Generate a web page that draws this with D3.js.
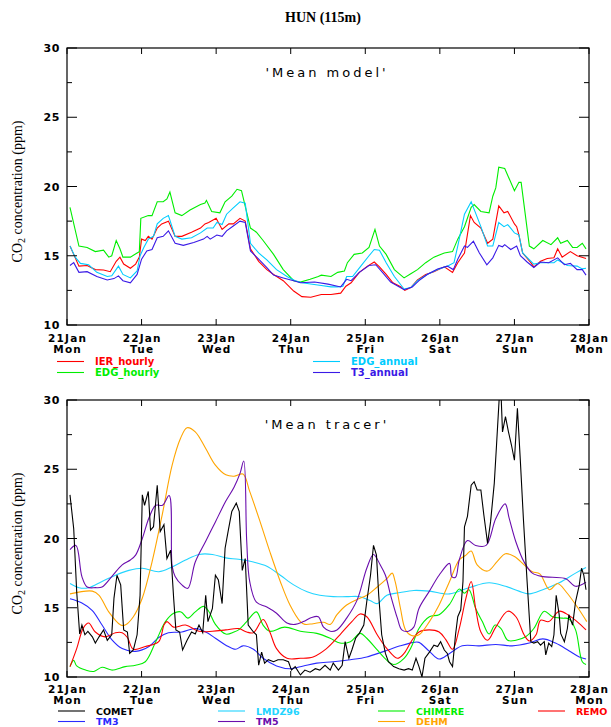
<!DOCTYPE html>
<html>
<head>
<meta charset="utf-8">
<script src="https://cdn.jsdelivr.net/npm/d3@7"></script>
<style>
  body { margin: 0; background: #fff; }
  .tick-lbl { font-family: "DejaVu Sans", sans-serif; font-weight: bold; fill: #000; }
  .leg { font-family: "DejaVu Sans", sans-serif; font-weight: bold; }
</style>
</head>
<body>
<div id="chart"></div>
<script>
// time in days since 21 Jan 00:00, values in ppm
const dayLabels = ["21Jan", "22Jan", "23Jan", "24Jan", "25Jan", "26Jan", "27Jan", "28Jan"];
const weekDays = ["Mon", "Tue", "Wed", "Thu", "Fri", "Sat", "Sun", "Mon"];
const yTicks = [10, 15, 20, 25, 30];

// ---- 'Mean model' panel
const ierHourly = [[0.04,15.7],[0.09,15.1],[0.16,14.25],[0.27,14.3],[0.38,14.0],[0.49,13.97],[0.58,13.85],[0.66,14.6],[0.71,14.9],[0.76,14.4],[0.85,14.1],[0.92,14.4],[0.97,14.9],[1.0,16.2],[1.05,16.1],[1.09,16.4],[1.14,16.2],[1.21,17.0],[1.27,17.3],[1.36,17.5],[1.45,16.4],[1.54,16.4],[1.67,16.7],[1.79,17.0],[1.85,17.3],[1.9,17.4],[2.0,17.7],[2.08,16.9],[2.17,17.3],[2.23,17.3],[2.32,17.7],[2.39,17.5],[2.46,15.5],[2.57,14.6],[2.68,14.0],[2.77,13.65],[2.9,13.2],[3.04,12.45],[3.15,12.05],[3.27,12.0],[3.41,12.2],[3.54,12.2],[3.67,12.3],[3.74,12.8],[3.81,13.05],[3.92,13.8],[4.03,14.25],[4.12,14.55],[4.19,14.2],[4.28,13.65],[4.37,13.05],[4.48,12.75],[4.53,12.5],[4.61,12.7],[4.70,13.25],[4.81,13.65],[4.92,13.85],[5.06,14.2],[5.17,13.8],[5.24,14.5],[5.33,15.2],[5.41,17.9],[5.46,17.4],[5.55,17.0],[5.64,15.9],[5.71,16.2],[5.79,18.6],[5.86,18.1],[5.91,18.2],[6.0,17.3],[6.03,17.1],[6.06,16.5],[6.11,15.2],[6.22,14.5],[6.26,14.2],[6.35,14.6],[6.44,14.8],[6.53,14.85],[6.58,15.5],[6.64,14.9],[6.75,15.3],[6.84,15.0],[6.96,14.8]];
const edgHourly = [[0.04,18.5],[0.16,15.7],[0.27,15.6],[0.38,15.3],[0.49,15.4],[0.56,14.9],[0.6,15.0],[0.66,16.1],[0.71,15.5],[0.75,14.9],[0.85,14.9],[0.94,15.2],[0.97,15.3],[0.99,17.7],[1.09,17.9],[1.14,17.9],[1.21,18.9],[1.29,18.9],[1.34,19.1],[1.38,19.6],[1.45,18.1],[1.54,17.9],[1.65,18.3],[1.79,18.7],[1.85,18.8],[1.87,19.0],[1.94,18.2],[2.05,18.1],[2.12,18.9],[2.21,19.3],[2.28,19.8],[2.34,19.7],[2.46,17.0],[2.54,16.7],[2.63,16.1],[2.77,15.1],[2.9,14.0],[3.04,13.2],[3.13,13.1],[3.26,13.3],[3.37,13.5],[3.41,13.6],[3.54,13.5],[3.63,13.8],[3.72,13.9],[3.76,14.5],[3.85,15.1],[3.96,15.2],[4.05,15.6],[4.13,16.9],[4.19,15.7],[4.28,15.1],[4.39,14.0],[4.52,13.4],[4.61,13.7],[4.70,14.0],[4.81,14.5],[4.92,14.9],[5.06,15.2],[5.17,15.3],[5.24,16.2],[5.33,17.1],[5.42,18.5],[5.46,18.7],[5.55,18.2],[5.66,18.1],[5.71,19.3],[5.75,19.9],[5.79,21.4],[5.87,21.3],[6.0,19.7],[6.06,20.3],[6.09,20.3],[6.2,15.7],[6.26,15.5],[6.38,16.1],[6.49,15.8],[6.58,16.3],[6.62,15.9],[6.71,16.1],[6.78,15.6],[6.84,15.6],[6.91,15.9],[6.96,15.5]];
const edgAnnual = [[0.04,15.7],[0.11,14.9],[0.18,14.45],[0.29,14.35],[0.40,13.8],[0.54,13.5],[0.60,13.55],[0.69,14.25],[0.75,13.65],[0.85,13.4],[0.94,13.9],[0.98,15.0],[1.03,15.6],[1.09,16.2],[1.16,16.4],[1.21,17.3],[1.29,17.7],[1.36,17.9],[1.45,16.4],[1.54,16.2],[1.67,16.3],[1.79,16.65],[1.88,17.0],[1.96,17.0],[2.01,17.4],[2.08,17.25],[2.14,18.0],[2.23,18.45],[2.32,18.9],[2.39,18.8],[2.46,15.9],[2.57,15.2],[2.68,14.7],[2.81,14.0],[2.95,13.5],[3.06,13.2],[3.15,13.05],[3.41,12.85],[3.54,12.75],[3.63,12.75],[3.70,12.8],[3.75,13.5],[3.83,13.5],[3.94,14.25],[4.05,15.0],[4.12,15.45],[4.19,15.4],[4.28,14.5],[4.39,13.5],[4.52,12.6],[4.61,12.7],[4.70,13.2],[4.83,13.65],[4.97,14.0],[5.10,14.25],[5.19,14.5],[5.24,15.7],[5.33,18.0],[5.42,18.9],[5.46,18.35],[5.55,17.1],[5.64,15.7],[5.71,15.7],[5.79,17.4],[5.86,17.1],[5.91,17.25],[6.0,16.65],[6.06,16.5],[6.11,15.2],[6.26,14.4],[6.35,14.5],[6.53,14.5],[6.58,14.7],[6.71,14.3],[6.84,14.25],[6.91,14.05],[6.96,14.1]];
const t3Annual = [[0.04,14.3],[0.09,14.5],[0.16,13.8],[0.27,13.85],[0.40,13.5],[0.54,13.25],[0.63,13.35],[0.69,13.55],[0.75,13.2],[0.85,13.05],[0.94,13.65],[1.0,14.75],[1.07,15.35],[1.14,15.45],[1.21,16.3],[1.29,16.4],[1.36,16.8],[1.45,15.9],[1.56,15.75],[1.70,15.95],[1.83,16.2],[1.88,16.4],[1.92,16.2],[2.01,16.5],[2.08,16.4],[2.14,16.8],[2.23,17.15],[2.32,17.5],[2.39,17.4],[2.46,15.35],[2.57,14.75],[2.68,14.15],[2.77,13.6],[2.90,13.4],[3.04,13.2],[3.13,13.05],[3.32,13.1],[3.50,12.95],[3.67,12.75],[3.75,13.3],[3.81,13.2],[3.92,13.8],[4.05,14.3],[4.14,14.35],[4.23,13.8],[4.34,13.1],[4.52,12.55],[4.63,12.75],[4.72,13.2],[4.83,13.65],[4.97,14.05],[5.10,14.25],[5.18,14.0],[5.24,14.75],[5.33,15.7],[5.37,15.6],[5.45,16.05],[5.53,15.2],[5.63,14.35],[5.71,14.85],[5.79,15.75],[5.84,15.65],[5.87,15.8],[5.95,15.45],[6.03,15.7],[6.08,15.0],[6.17,14.55],[6.26,14.15],[6.35,14.55],[6.46,14.5],[6.58,14.85],[6.67,14.35],[6.75,14.45],[6.84,14.0],[6.91,14.0],[6.96,13.6]];

// ---- 'Mean tracer' panel
const comet = [[0.04,23.15],[0.09,20.7],[0.13,16.15],[0.17,13.1],[0.20,13.75],[0.24,13.05],[0.28,13.3],[0.34,12.9],[0.38,12.45],[0.43,12.9],[0.49,13.4],[0.54,12.65],[0.60,13.05],[0.63,15.7],[0.67,17.35],[0.72,16.65],[0.76,13.4],[0.81,13.25],[0.84,11.7],[0.89,11.95],[0.94,13.05],[0.98,15.9],[1.01,23.15],[1.04,22.4],[1.09,23.4],[1.12,20.6],[1.16,20.85],[1.21,23.85],[1.25,20.5],[1.30,21.0],[1.34,18.55],[1.39,19.15],[1.43,15.7],[1.46,13.4],[1.51,13.25],[1.55,11.95],[1.61,12.65],[1.67,13.25],[1.72,13.1],[1.77,13.75],[1.82,13.2],[1.86,15.9],[1.89,14.0],[1.95,14.95],[1.99,17.35],[2.03,17.0],[2.08,15.3],[2.12,19.3],[2.16,20.5],[2.21,21.95],[2.27,22.55],[2.31,21.95],[2.35,17.7],[2.39,18.55],[2.43,13.75],[2.50,13.25],[2.54,13.05],[2.57,10.85],[2.61,11.8],[2.65,11.0],[2.70,11.25],[2.77,11.1],[2.83,11.25],[2.90,11.25],[2.97,11.1],[3.01,10.5],[3.06,10.75],[3.13,10.15],[3.19,10.5],[3.26,10.35],[3.33,10.6],[3.39,10.5],[3.46,10.85],[3.53,10.5],[3.57,11.0],[3.64,10.5],[3.69,10.85],[3.73,12.55],[3.78,11.35],[3.82,11.95],[3.87,12.8],[3.92,13.15],[3.98,13.75],[4.02,15.45],[4.07,17.35],[4.11,19.5],[4.15,18.8],[4.18,15.9],[4.22,13.05],[4.27,11.7],[4.31,11.1],[4.38,10.75],[4.45,10.6],[4.52,10.5],[4.58,10.6],[4.63,10.5],[4.68,11.35],[4.72,10.75],[4.76,10.0],[4.80,11.35],[4.86,11.8],[4.92,12.3],[4.97,12.2],[5.01,12.55],[5.06,11.95],[5.10,11.7],[5.13,11.1],[5.17,10.75],[5.21,13.05],[5.24,14.35],[5.28,14.85],[5.31,16.9],[5.33,20.85],[5.37,21.6],[5.42,23.85],[5.46,24.1],[5.50,23.5],[5.55,23.5],[5.59,21.7],[5.64,19.65],[5.68,21.2],[5.73,24.0],[5.76,26.75],[5.80,30.5],[5.82,30.5],[5.84,27.7],[5.88,28.8],[5.92,27.7],[5.96,26.75],[6.0,25.65],[6.04,29.4],[6.08,25.55],[6.12,21.45],[6.17,16.9],[6.22,12.55],[6.26,12.45],[6.31,12.55],[6.35,12.3],[6.40,12.55],[6.42,11.6],[6.46,12.45],[6.50,12.2],[6.53,13.05],[6.56,15.9],[6.60,14.5],[6.62,13.15],[6.67,12.55],[6.71,13.5],[6.73,14.5],[6.78,13.75],[6.82,15.45],[6.87,16.65],[6.90,17.85],[6.93,17.35],[6.96,16.3]];
const tm3 = [[0.04,15.65],[0.20,15.35],[0.34,14.8],[0.47,13.75],[0.60,12.7],[0.74,12.05],[0.92,11.85],[1.10,12.2],[1.23,12.85],[1.36,13.2],[1.54,13.25],[1.72,13.5],[1.86,13.25],[1.99,12.8],[2.13,12.3],[2.26,12.0],[2.36,12.25],[2.50,12.0],[2.63,11.35],[2.81,10.8],[2.99,10.6],[3.17,10.8],[3.35,11.0],[3.57,11.1],[3.80,11.25],[4.02,11.45],[4.25,11.85],[4.47,12.25],[4.65,12.5],[4.72,12.5],[4.86,11.85],[4.99,11.3],[5.13,11.7],[5.30,12.25],[5.53,12.25],[5.75,12.35],[5.97,12.25],[6.20,12.45],[6.38,12.75],[6.55,12.45],[6.73,11.9],[6.87,11.45],[6.96,11.3]];
const lmdz96 = [[0.04,16.75],[0.16,16.45],[0.29,16.45],[0.47,16.9],[0.65,17.35],[0.83,17.7],[1.01,17.85],[1.23,17.6],[1.41,17.95],[1.59,18.45],[1.77,18.85],[1.95,18.85],[2.13,18.6],[2.30,18.5],[2.50,18.3],[2.68,18.0],[2.86,17.35],[3.04,16.65],[3.22,16.15],[3.39,15.9],[3.57,15.8],[3.75,15.8],[3.93,15.8],[4.07,15.5],[4.16,15.3],[4.29,15.9],[4.47,16.1],[4.65,16.25],[4.86,16.2],[5.13,16.0],[5.39,16.45],[5.66,16.8],[5.88,16.55],[6.06,16.2],[6.20,16.0],[6.38,16.3],[6.60,16.8],[6.82,17.5],[6.96,17.9]];
const tm5 = [[0.04,19.2],[0.12,19.5],[0.20,17.25],[0.27,16.5],[0.38,16.45],[0.47,16.5],[0.60,17.25],[0.74,18.1],[0.85,18.45],[0.92,18.8],[1.01,20.0],[1.10,21.5],[1.19,22.4],[1.28,22.4],[1.37,23.1],[1.41,18.0],[1.45,17.25],[1.54,16.65],[1.62,16.4],[1.72,18.3],[1.86,19.8],[1.99,21.2],[2.13,22.7],[2.24,23.7],[2.32,24.7],[2.37,25.6],[2.41,19.8],[2.45,16.9],[2.54,15.4],[2.68,15.05],[2.81,14.6],[2.95,13.9],[3.06,13.8],[3.17,14.0],[3.28,14.3],[3.37,14.35],[3.44,13.6],[3.53,13.3],[3.62,13.4],[3.75,14.25],[3.89,15.55],[4.02,17.85],[4.11,18.85],[4.20,18.1],[4.27,17.35],[4.34,15.9],[4.43,14.25],[4.49,13.4],[4.58,13.3],[4.65,13.6],[4.72,14.95],[4.86,16.2],[4.99,17.35],[5.13,18.2],[5.16,17.25],[5.21,17.2],[5.26,18.45],[5.37,19.85],[5.48,19.5],[5.62,19.5],[5.75,21.45],[5.875,22.5],[5.93,21.45],[6.02,19.75],[6.13,18.3],[6.24,17.5],[6.38,17.25],[6.51,17.2],[6.69,17.1],[6.82,16.55],[6.96,16.85]];
const chimere = [[0.04,10.75],[0.09,11.2],[0.13,10.8],[0.25,10.5],[0.36,10.4],[0.47,10.7],[0.60,10.5],[0.78,10.75],[0.92,10.85],[1.05,11.1],[1.19,12.55],[1.32,14.0],[1.43,14.6],[1.53,14.7],[1.62,14.25],[1.72,14.7],[1.83,15.1],[1.90,14.75],[1.99,13.8],[2.13,13.1],[2.24,13.25],[2.30,13.4],[2.41,14.0],[2.54,14.7],[2.63,13.75],[2.72,13.3],[2.92,13.6],[3.13,13.3],[3.35,13.15],[3.53,12.8],[3.66,12.45],[3.80,12.55],[3.93,13.15],[4.02,12.8],[4.16,11.95],[4.29,11.2],[4.38,10.9],[4.52,11.35],[4.62,12.2],[4.72,13.5],[4.86,14.35],[4.99,14.5],[5.13,15.25],[5.26,16.35],[5.33,16.05],[5.39,16.3],[5.48,14.95],[5.57,14.0],[5.66,13.1],[5.74,13.75],[5.82,13.5],[5.91,12.65],[6.02,12.65],[6.15,12.9],[6.26,13.5],[6.40,14.75],[6.51,14.35],[6.64,14.25],[6.73,14.2],[6.82,13.4],[6.91,11.1],[6.96,10.9]];
const dehm = [[0.04,16.0],[0.34,16.2],[0.43,15.9],[0.56,14.7],[0.72,13.75],[0.78,13.75],[0.89,14.35],[1.01,15.7],[1.14,18.3],[1.28,21.8],[1.41,25.3],[1.52,27.2],[1.61,28.0],[1.72,27.7],[1.86,26.5],[1.99,25.3],[2.13,24.6],[2.24,24.5],[2.36,24.65],[2.45,23.4],[2.59,21.2],[2.72,19.05],[2.86,16.9],[2.99,15.2],[3.13,14.0],[3.19,13.8],[3.30,13.85],[3.44,13.95],[3.53,13.8],[3.62,14.5],[3.75,15.2],[3.89,15.6],[4.02,15.9],[4.16,16.5],[4.29,17.1],[4.36,17.5],[4.40,16.9],[4.47,15.0],[4.54,13.4],[4.62,13.0],[4.72,13.05],[4.86,14.0],[4.99,15.2],[5.13,16.9],[5.26,18.45],[5.35,18.8],[5.42,19.1],[5.50,18.1],[5.64,17.65],[5.77,18.35],[5.88,18.9],[6.0,18.7],[6.13,18.1],[6.24,17.6],[6.34,17.45],[6.47,16.3],[6.58,16.75],[6.70,16.1],[6.85,15.0],[6.97,14.0]];
const remo = [[0.04,10.75],[0.13,12.05],[0.22,13.55],[0.29,13.9],[0.38,13.25],[0.51,12.9],[0.65,13.2],[0.74,13.2],[0.81,12.85],[0.89,12.0],[1.05,12.2],[1.23,12.55],[1.30,13.75],[1.34,14.0],[1.43,13.6],[1.59,13.75],[1.77,13.3],[1.95,13.3],[2.13,13.4],[2.30,13.5],[2.41,13.25],[2.50,13.2],[2.63,14.15],[2.72,13.25],[2.81,12.05],[2.95,11.35],[3.13,11.35],[3.30,11.45],[3.48,12.05],[3.66,13.05],[3.82,14.0],[3.93,14.55],[4.02,14.35],[4.16,13.05],[4.29,12.05],[4.43,11.35],[4.52,11.7],[4.62,12.6],[4.72,13.25],[4.86,13.4],[4.99,13.25],[5.08,12.7],[5.17,12.0],[5.26,13.5],[5.35,15.7],[5.42,16.9],[5.48,14.95],[5.55,13.25],[5.64,12.65],[5.75,13.6],[5.91,14.75],[6.02,14.35],[6.13,13.05],[6.20,12.6],[6.29,13.05],[6.35,14.1],[6.46,14.0],[6.60,14.75],[6.73,14.45],[6.84,14.0],[6.96,13.4]];

const W = 611, H = 727;
const left = 67, right = 589;

const svg = d3.select("#chart").append("svg")
  .attr("width", W).attr("height", H);

// title
svg.append("text")
  .attr("x", 323).attr("y", 22)
  .attr("text-anchor", "middle")
  .style("font-family", "'Liberation Serif', serif")
  .style("font-weight", "bold")
  .style("font-size", "14px")
  .text("HUN (115m)");

const x = d3.scaleLinear().domain([0, 7]).range([left, right]);

function drawPanel(top, bottom, label, series, clipId, lblOff) {
  const y = d3.scaleLinear().domain([10, 30]).range([bottom, top]);
  const g = svg.append("g");

  g.append("clipPath").attr("id", clipId)
    .append("rect").attr("x", left).attr("y", top)
    .attr("width", right - left).attr("height", bottom - top);

  // lines
  series.forEach(s => {
    const line = d3.line()
      .x(d => x(d[0]))
      .y(d => y(d[1]))
      .curve(s.smooth ? d3.curveCatmullRom.alpha(0.5) : d3.curveLinear);
    g.append("path")
      .datum(s.data)
      .attr("clip-path", `url(#${clipId})`)
      .attr("fill", "none")
      .attr("stroke", s.color)
      .attr("stroke-width", 1.1)
      .attr("d", line);
  });

  // frame
  g.append("rect")
    .attr("x", left).attr("y", top)
    .attr("width", right - left).attr("height", bottom - top)
    .attr("fill", "none").attr("stroke", "#000").attr("stroke-width", 1.2);

  // y axis labels
  const yAxisL = d3.axisLeft(y).tickValues(yTicks).tickSize(0).tickPadding(7);
  const gl = g.append("g").attr("transform", `translate(${left},0)`).call(yAxisL);
  gl.select(".domain").remove();
  gl.selectAll("text").attr("class", "tick-lbl").style("font-size", "11px").attr("letter-spacing", "0.6px");

  // ticks every 2.5, left and right
  d3.range(10, 30.01, 2.5).forEach(v => {
    const len = v % 5 === 0 ? 10 : 5;
    g.append("line").attr("x1", left).attr("x2", left + len)
      .attr("y1", y(v)).attr("y2", y(v)).attr("stroke", "#000");
    g.append("line").attr("x1", right).attr("x2", right - len)
      .attr("y1", y(v)).attr("y2", y(v)).attr("stroke", "#000");
  });

  // x ticks top and bottom
  d3.range(0, 8).forEach(d => {
    g.append("line").attr("x1", x(d)).attr("x2", x(d))
      .attr("y1", bottom).attr("y2", bottom - 6).attr("stroke", "#000");
    g.append("line").attr("x1", x(d)).attr("x2", x(d))
      .attr("y1", top).attr("y2", top + 6).attr("stroke", "#000");
  });

  // x labels: date and weekday
  const xl = g.selectAll(".xl").data(dayLabels).enter().append("g")
    .attr("transform", (d, i) => `translate(${x(i)},0)`);
  xl.append("text").attr("class", "tick-lbl")
    .attr("y", bottom + lblOff).attr("text-anchor", "middle")
    .attr("dominant-baseline", "central").attr("dx", 0.6)
    .style("font-size", "10.5px").attr("letter-spacing", "1.2px")
    .text(d => d);
  xl.append("text").attr("class", "tick-lbl")
    .attr("y", bottom + lblOff + 11).attr("text-anchor", "middle")
    .attr("dominant-baseline", "central").attr("dx", 0.6)
    .style("font-size", "10.5px").attr("letter-spacing", "1.2px")
    .text((d, i) => weekDays[i]);

  // panel label
  g.append("text")
    .attr("x", 327).attr("y", top + 24)
    .attr("text-anchor", "middle").attr("dominant-baseline", "central")
    .style("font-family", "'DejaVu Sans', sans-serif")
    .style("font-size", "13px")
    .attr("letter-spacing", "3px")
    .text(label);

  // y title
  const yt = g.append("text")
    .attr("transform", `translate(22,${(top + bottom) / 2 + 5}) rotate(-90)`)
    .attr("text-anchor", "middle")
    .style("font-family", "'Liberation Serif', serif")
    .style("font-size", "14px");
  yt.append("tspan").text("CO");
  yt.append("tspan").attr("dy", 3).style("font-size", "10px").text("2");
  yt.append("tspan").attr("dy", -3).text(" concentration (ppm)");

  return g;
}

function drawLegend(items, fontSize) {
  items.forEach(it => {
    svg.append("line")
      .attr("x1", it.x).attr("x2", it.x + 27)
      .attr("y1", it.y).attr("y2", it.y)
      .attr("stroke", it.color).attr("stroke-width", 1.1);
    svg.append("text").attr("class", "leg")
      .attr("x", it.x + 38).attr("y", it.y)
      .attr("dominant-baseline", "central")
      .style("font-size", fontSize + "px")
      .attr("fill", it.color)
      .text(it.name);
  });
}

const cRed = "#ff0000", cGreen = "#00ee00", cCyan = "#00ccff", cBlue = "#3a1ae6";
drawPanel(48, 325, "'Mean model'", [
  { data: ierHourly, color: cRed },
  { data: edgHourly, color: cGreen },
  { data: edgAnnual, color: cCyan },
  { data: t3Annual, color: cBlue }
], "clipTop", 13);

drawLegend([
  { name: "IER_hourly", color: cRed, x: 57, y: 361.5 },
  { name: "EDG_hourly", color: cGreen, x: 57, y: 372.5 },
  { name: "EDG_annual", color: cCyan, x: 313, y: 361.5 },
  { name: "T3_annual", color: cBlue, x: 313, y: 372.5 }
], 10);

const cBlack = "#000000", cTm3 = "#2a2aff", cLmdz = "#22d4ff", cTm5 = "#6a0dad",
      cChim = "#00ee00", cDehm = "#ffa500", cRemo = "#ff0000";
drawPanel(400, 677, "'Mean tracer'", [
  { data: lmdz96, color: cLmdz, smooth: true },
  { data: tm3, color: cTm3, smooth: true },
  { data: chimere, color: cChim, smooth: true },
  { data: remo, color: cRemo, smooth: true },
  { data: dehm, color: cDehm, smooth: true },
  { data: tm5, color: cTm5, smooth: true },
  { data: comet, color: cBlack }
], "clipBot", 12);

drawLegend([
  { name: "COMET", color: cBlack, x: 58, y: 711 },
  { name: "TM3", color: cTm3, x: 58, y: 721.5 },
  { name: "LMDZ96", color: cLmdz, x: 218, y: 711 },
  { name: "TM5", color: cTm5, x: 218, y: 721.5 },
  { name: "CHIMERE", color: cChim, x: 378, y: 711 },
  { name: "DEHM", color: cDehm, x: 378, y: 721.5 },
  { name: "REMO", color: cRemo, x: 538, y: 711 }
], 9.5);
</script>
</body>
</html>
